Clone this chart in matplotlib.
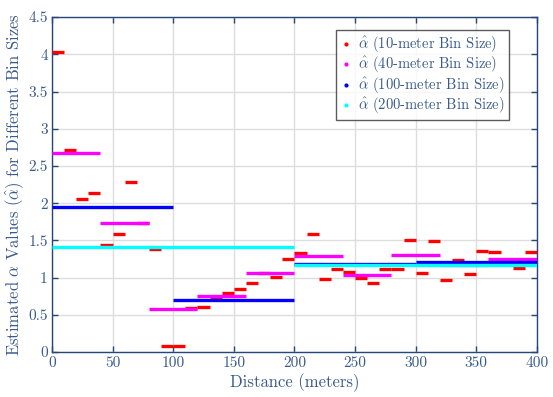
import matplotlib
matplotlib.use("Agg")
import matplotlib.pyplot as plt
import numpy as np

plt.rcParams['font.family'] = ['cmr10', 'DejaVu Serif']
plt.rcParams['mathtext.fontset'] = 'cm'
plt.rcParams['axes.unicode_minus'] = False
plt.rcParams['axes.formatter.use_mathtext'] = True

# alpha-hat estimates per bin
alpha_10m = [4.03, 2.71, 2.06, 2.14, 1.44, 1.59, 2.29, 1.74, 1.38, 0.08,
             0.08, 0.59, 0.61, 0.71, 0.80, 0.85, 0.93, 1.06, 1.01, 1.25,
             1.33, 1.59, 0.98, 1.11, 1.07, 1.00, 0.93, 1.11, 1.12, 1.51,
             1.06, 1.49, 0.97, 1.24, 1.05, 1.36, 1.34, 1.20, 1.13, 1.35]
alpha_40m = [2.68, 1.74, 0.575, 0.75, 1.06, 1.285, 1.035, 1.30, 1.17, 1.245]
alpha_100m = [1.945, 0.705, 1.19, 1.215]
alpha_200m = [1.41, 1.165]

bin_sizes = [10, 40, 100, 200]
series = [alpha_10m, alpha_40m, alpha_100m, alpha_200m]
colors = ['#ff0000', '#ff00ff', '#0000ff', '#00ffff']
labels = [r'$\hat{\alpha}$ (10-meter Bin Size)',
          r'$\hat{\alpha}$ (40-meter Bin Size)',
          r'$\hat{\alpha}$ (100-meter Bin Size)',
          r'$\hat{\alpha}$ (200-meter Bin Size)']

xticks = [0, 50, 100, 150, 200, 250, 300, 350, 400]
yticks = [0, 0.5, 1, 1.5, 2, 2.5, 3, 3.5, 4, 4.5]
ytick_labels = ['0', '0.5', '1', '1.5', '2', '2.5', '3', '3.5', '4', '4.5']

txt_col = '#3a5a8c'
spine_col = '#27477a'

fig = plt.figure(figsize=(5.53, 3.97), dpi=100)
ax = fig.add_axes([0.094, 0.113, 0.877, 0.844])

for size, vals, col, lab in zip(bin_sizes, series, colors, labels):
    vals = np.array(vals)
    left = np.arange(len(vals)) * size
    ax.hlines(vals, left, left + size, colors=col, linewidth=2.4, zorder=3)
    ax.plot([], [], '.', color=col, markersize=4, label=lab)

ax.set_xlim(0, 400)
ax.set_ylim(0, 4.5)
ax.set_xticks(xticks)
ax.set_xticklabels([str(t) for t in xticks])
ax.set_yticks(yticks)
ax.set_yticklabels(ytick_labels)
ax.grid(True, color='#dddddd', linewidth=1.0, zorder=0)
ax.set_axisbelow(True)

ax.tick_params(direction='in', top=True, right=True, length=4, width=1,
               color=spine_col, labelcolor=txt_col, labelsize=11, pad=3)
for sp in ax.spines.values():
    sp.set_color(spine_col)
    sp.set_linewidth(1.0)

ax.set_xlabel('Distance (meters)', color=txt_col, fontsize=12, labelpad=2)
ax.set_ylabel(r'Estimated $\alpha$ Values ($\hat{\alpha}$) for Different Bin Sizes',
              color=txt_col, fontsize=12, labelpad=2)

leg = ax.legend(loc='upper right', bbox_to_anchor=(0.942, 0.96), fontsize=10.5,
                frameon=True, fancybox=False, handlelength=0.8, handletextpad=0.4,
                borderpad=0.3, labelspacing=0.0, borderaxespad=0)
leg.get_frame().set_edgecolor('#333333')
leg.get_frame().set_linewidth(1.0)
for t in leg.get_texts():
    t.set_color(txt_col)

fig.savefig('out.png', dpi=100)
